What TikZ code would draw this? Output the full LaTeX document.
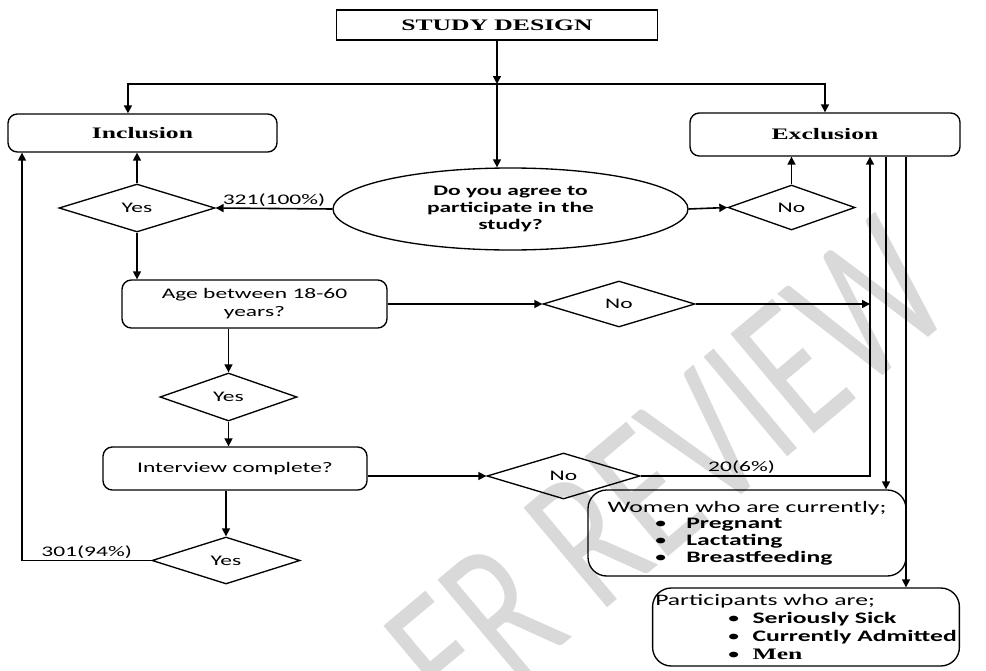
\documentclass[tikz,border=0pt]{standalone}
\usepackage{fontspec}
\setmainfont{Carlito}[FakeStretch=1.6]
\newfontfamily\tnr{Liberation Serif}[FakeStretch=1.6]
\newfontfamily\wmfont{Carlito}[FakeStretch=0.72]
\usetikzlibrary{shapes.geometric,arrows.meta}

\newcommand{\itemw}[1]{\\\hspace*{35pt}\makebox[24pt][l]{\textbullet}\textbf{#1}}
\newcommand{\itemp}[2][]{\\\hspace*{54pt}\makebox[19pt][l]{\textbullet}{#1\bfseries #2}}

\begin{document}
\begin{tikzpicture}
  [x=0.75pt,y=-0.75pt,font=\fontsize{11}{13}\selectfont]
      \tikzstyle{box_style} = [draw=black, line width=1pt, rounded corners=7pt, align=center, inner sep=2pt]
      \tikzstyle{dia_style} = [draw=black, line width=1pt, diamond, inner sep=0pt]
      \tikzstyle{edge_style} = [draw=black, line width=1.2pt]
      \tikzstyle{arrow_style} = [edge_style, -{Triangle[length=6pt,width=6pt]}]
  \useasboundingbox (0,0) rectangle (986,671);
  % watermark
  \node[rotate=40, inner sep=0pt, text=black!15,
    font=\wmfont\fontsize{152}{152}\selectfont] (mark) at (668,472) {ER REVIEW};
  % boxes
  \node[draw=black, line width=1pt, minimum width=240.75pt, minimum height=22.5pt,
    font=\tnr\bfseries\fontsize{12}{14}\selectfont] (design) at (497,25) {STUDY DESIGN};
  \node[box_style, minimum width=201.75pt, minimum height=28.5pt,
    font=\tnr\bfseries\fontsize{12}{14}\selectfont] (incl) at (142.5,133) {Inclusion};
  \node[box_style, minimum width=202.5pt, minimum height=32.25pt,
    font=\tnr\bfseries\fontsize{12}{14}\selectfont] (excl) at (825,134.5) {Exclusion};
  \node[ellipse, draw=black, line width=1pt, minimum width=266.25pt, minimum height=61.5pt,
    align=center, font=\bfseries\fontsize{11}{12.5}\selectfont] (agree) at (510.5,209) {Do you agree to\\participate in the\\study?};
  \node[dia_style, minimum width=117pt, minimum height=36pt] (yes1) at (137,208) {Yes};
  \node[dia_style, minimum width=95.25pt, minimum height=33.75pt] (no1) at (791.5,207.5) {No};
  \node[box_style, minimum width=198.75pt, minimum height=36pt,
    font=\fontsize{11}{13.5}\selectfont] (age) at (254.5,304) {Age between 18-60\\years?};
  \node[dia_style, minimum width=114pt, minimum height=34.5pt] (no2) at (619,304) {No};
  \node[dia_style, minimum width=102.75pt, minimum height=36pt] (yes2) at (228.5,397) {Yes};
  \node[box_style, minimum width=198pt, minimum height=32.25pt] (intv) at (235,468.5) {Interview complete?};
  \node[dia_style, minimum width=114.75pt, minimum height=34.5pt] (no3) at (563.5,476) {No};
  \node[dia_style, minimum width=111pt, minimum height=35.25pt] (yes3) at (226,560.5) {Yes};
  \node[box_style, rounded corners=14pt, align=left, minimum width=238.5pt, minimum height=64.5pt,
    font=\fontsize{12}{12.5}\selectfont] (women) at (747,533)
    {Women who are currently;\itemw{Pregnant}\itemw{Lactating}\itemw{Breastfeeding}};
  \node[box_style, rounded corners=14pt, align=left, minimum width=228pt, minimum height=58.5pt,
    font=\fontsize{12}{13.5}\selectfont] (partic) at (806,627)
    {Participants who are;\itemp{Seriously Sick}\itemp{Currently Admitted}\itemp[\tnr]{Men}};
  % helper points
  \coordinate (split) at (497,84);
  \coordinate (loop) at (22,0);
  \coordinate (rise) at (870,0);
  \coordinate (drop1) at (886,0);
  \coordinate (drop2) at (906,0);
  % connectors
  \draw[arrow_style] (design) -- (split);
  \draw[arrow_style] (split) -| ([xshift=-10.9pt]incl.north);
  \draw[arrow_style] (split) -| (excl.north);
  \draw[arrow_style] (split) -- (split |- agree.north);
  \draw[arrow_style] (agree.west) -- node[above, inner sep=1pt] {321(100\%)} (yes1.east);
  \draw[arrow_style] (yes1.north) -- (yes1 |- incl.south);
  \draw[arrow_style] (agree.east) -- (no1.west);
  \draw[arrow_style] (no1.north) -- (no1 |- excl.south);
  \draw[arrow_style] (yes1.south) -- (yes1 |- age.north);
  \draw[arrow_style] (age.east) -- (no2.west);
  \draw[arrow_style] (no2.east) -- (no2.east -| rise);
  \draw[arrow_style] (yes2.north |- age.south) -- (yes2.north);
  \draw[arrow_style] (yes2.south) -- (yes2 |- intv.north);
  \draw[arrow_style] (no3.west -| intv.east) -- (no3.west);
  \draw[arrow_style] (no3.east) -- node[above, pos=0.44, inner sep=1pt] {20(6\%)} (no3.east -| rise) -- (excl.south -| rise);
  \draw[arrow_style] (intv.south -| yes3) -- (yes3.north);
  \draw[arrow_style] (yes3.west) -- node[above, inner sep=1pt] {301(94\%)} (yes3.west -| loop) -- (incl.south -| loop);
  \draw[arrow_style] (excl.south -| drop1) -- (women.north -| drop1);
  \draw[arrow_style] (excl.south -| drop2) -- (partic.north -| drop2);
\end{tikzpicture}
\end{document}
